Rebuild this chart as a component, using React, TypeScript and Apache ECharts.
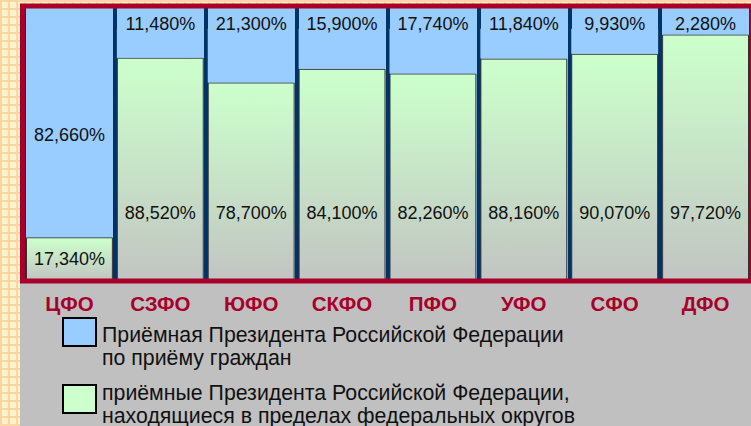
import React, { useEffect, useRef } from "react";
import * as echarts from "echarts";

const districts = ["ЦФО", "СЗФО", "ЮФО", "СКФО", "ПФО", "УФО", "СФО", "ДФО"];
const receptionShare = [82.66, 11.48, 21.3, 15.9, 17.74, 11.84, 9.93, 2.28];
const districtShare = [17.34, 88.52, 78.7, 84.1, 82.26, 88.16, 90.07, 97.72];
const seriesNames = [
  "Приёмная Президента Российской Федерации\nпо приёму граждан",
  "приёмные Президента Российской Федерации,\nнаходящиеся в пределах федеральных округов",
];

const FONT = '"Liberation Sans", Arial, sans-serif';
const RED = "#a8002b";
const BLUE = "#99ccff";
const GREEN = "#ccffcc";
const NAVY = "#003366";

const fmt = (v: number) => v.toFixed(3).replace(".", ",") + "%";

export default function App() {
  const ref = useRef<HTMLDivElement>(null);
  useEffect(() => {
    if (!ref.current) return;
    const chart = echarts.init(ref.current, undefined, { renderer: "svg" });
    const legendBox = (top: number, name: string, color: string) => ({
      left: 62,
      top,
      padding: 0,
      icon: "rect",
      itemWidth: 33,
      itemHeight: 28,
      selectedMode: false,
      formatter: () => "",
      data: [{ name, itemStyle: { color, borderColor: "#000", borderWidth: 2 } }],
    });
    const legendLabel = (y: number, text: string) => ({
      type: "text",
      x: 102,
      y,
      silent: true,
      style: {
        text,
        font: `21.3px ${FONT}`,
        lineHeight: 22.7,
        fill: "#111",
        align: "left",
        verticalAlign: "top",
      },
    });
    chart.setOption({
      animation: false,
      backgroundColor: "transparent",
      grid: {
        show: true,
        left: 24,
        right: -2,
        top: 6,
        bottom: 145,
        backgroundColor: BLUE,
        borderWidth: 0,
      },
      xAxis: {
        type: "category",
        data: districts,
        boundaryGap: true,
        axisLine: { show: false },
        axisTick: { show: false },
        axisLabel: {
          color: RED,
          fontSize: 20.5,
          fontWeight: "bold",
          fontFamily: FONT,
          margin: 12,
          interval: 0,
        },
        splitLine: { show: true, interval: 0, lineStyle: { color: NAVY, width: 4 } },
      },
      yAxis: {
        type: "value",
        min: 0,
        max: 109,
        show: false,
        splitLine: { show: false },
      },
      legend: [
        legendBox(317, seriesNames[0], BLUE),
        legendBox(384, seriesNames[1], GREEN),
      ],
      series: [
        {
          name: seriesNames[1],
          type: "bar",
          stack: "total",
          barCategoryGap: "4.4%",
          itemStyle: {
            color: new echarts.graphic.LinearGradient(0, 0, 0, 1, [
              { offset: 0, color: GREEN },
              { offset: 0.15, color: "#cbf8cb" },
              { offset: 1, color: "#c2c4c2" },
            ]),
            borderColor: "#333",
            borderWidth: 1,
          },
          label: {
            show: true,
            position: "insideBottom",
            distance: 59,
            fontSize: 18,
            color: "#111",
            fontFamily: FONT,
            formatter: (p: any) => fmt(p.value),
          },
          data: districtShare.map((v, i) =>
            i === 0 ? { value: v, label: { position: "inside", distance: 5 } } : v
          ),
        },
        {
          name: seriesNames[0],
          type: "bar",
          stack: "total",
          barCategoryGap: "4.4%",
          itemStyle: { color: BLUE, borderWidth: 0 },
          label: {
            show: true,
            position: "top",
            distance: 0,
            offset: [0, 4],
            fontSize: 18,
            color: "#111",
            fontFamily: FONT,
            formatter: (p: any) => fmt(p.value),
          },
          data: receptionShare.map((v, i) =>
            i === 0 ? { value: v, label: { position: "inside", offset: [0, 2] } } : v
          ),
        },
      ],
      graphic: [
        {
          type: "rect",
          z: 100,
          silent: true,
          shape: { x: 22.5, y: 6, width: 729.5, height: 275 },
          style: { fill: "none", stroke: RED, lineWidth: 5 },
        },
        legendLabel(323.5, seriesNames[0]),
        legendLabel(382, seriesNames[1]),
      ],
    });
    return () => chart.dispose();
  }, []);

  return (
    <div
      style={{
        position: "fixed",
        left: 0,
        top: 0,
        width: 751,
        height: 426,
        overflow: "hidden",
        backgroundColor: "#fff3cc",
        backgroundImage:
          "linear-gradient(90deg, #ffd6a3 2px, transparent 2px), linear-gradient(#ffd6a3 2px, transparent 2px)",
        backgroundSize: "8px 8px",
      }}
    >
      <div
        style={{
          position: "absolute",
          left: 20,
          top: 4,
          right: 0,
          bottom: 0,
          background: "#c0c0c0",
        }}
      />
      <div ref={ref} style={{ position: "absolute", left: 0, top: 0, width: 751, height: 426 }} />
    </div>
  );
}
